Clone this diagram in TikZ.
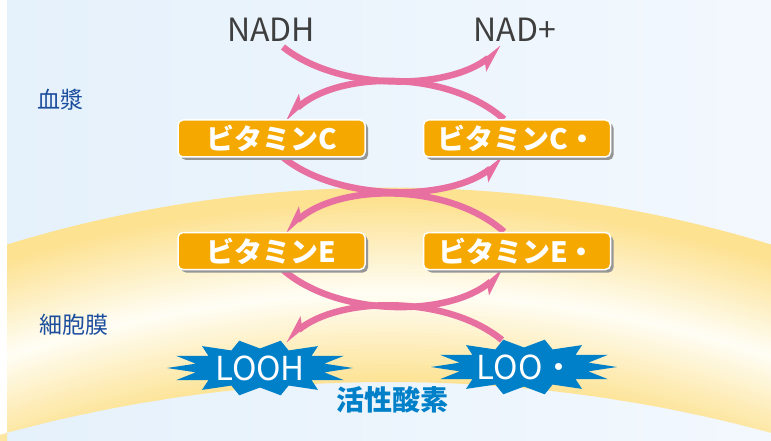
\documentclass[tikz,border=0pt]{standalone}
\usepackage{fontspec}
\setmainfont{Noto Sans CJK JP}
\newfontfamily\jpfont{Noto Sans CJK JP}
\usetikzlibrary{positioning, arrows.meta, shadows, backgrounds}

\definecolor{bgleft}{RGB}{229,241,251}
\definecolor{bgright}{RGB}{243,248,254}
\definecolor{memyellow}{RGB}{253,226,146}
\definecolor{memwhite}{RGB}{255,254,246}
\definecolor{vitorange}{RGB}{245,168,0}
\definecolor{shadowgray}{RGB}{150,150,150}
\definecolor{rosblue}{RGB}{0,128,200}
\definecolor{arrowpink}{RGB}{232,112,160}
\definecolor{placeblue}{RGB}{28,78,158}
\definecolor{nadgray}{RGB}{62,62,62}

\begin{document}
\begin{tikzpicture}[x=1pt, y=-1pt,
  vitbox/.style={rectangle, rounded corners=5pt, fill=vitorange, draw=white,
    line width=1.5pt, minimum width=187pt, minimum height=37pt, inner sep=0pt,
    text=white, font=\jpfont\bfseries\fontsize{28}{28}\selectfont,
    drop shadow={shadow xshift=3pt, shadow yshift=-3pt, fill=shadowgray, opacity=1}},
  lipid/.style={inner sep=0pt, text=white, font=\fontsize{33}{33}\selectfont},
  nadtext/.style={text=nadgray, inner sep=0pt, font=\fontsize{32}{32}\selectfont},
  place/.style={text=placeblue, inner sep=0pt, font=\fontsize{23}{23}\selectfont},
  redox/.style={line width=6.5pt, draw=arrowpink,
    -{Stealth[harpoon, swap, length=22pt, width=18pt, inset=5pt]}}]

\useasboundingbox (0,0) rectangle (771,441);
\begin{scope}[on background layer]
  \fill[white] (0,0) rectangle (771,441);
  \shade[left color=bgleft, right color=bgright] (7,0) rectangle (771,441);
  % cell membrane band
  \begin{scope}[even odd rule]
    \clip (7,0) rectangle (771,441) (389,1832) circle (1450pt);
    \foreach \r in {1100,1104,...,1300} {
      \pgfmathtruncatemacro{\w}{max(0,100-1.1*abs(\r-1197))}
      \draw[line width=4.8pt, memwhite!\w!memyellow] (389,1490) circle (\r pt);
    }
  \end{scope}
\end{scope}

\node[nadtext] (nadh) at (271,30) {NADH};
\node[nadtext] (nadp) at (515,30) {NAD+};
\node[place] (plasma) at (60,100) {血漿};
\node[place] (membrane) at (74,325) {細胞膜};

\node[vitbox] (vc) at (271.5,138.5) {ビタミンC};
\node[vitbox, right=57pt of vc] (vcr) {ビタミンC・};
\node[vitbox, below=74pt of vc] (ve) {ビタミンE};
\node[vitbox, right=57pt of ve] (ver) {ビタミンE・};

\node[lipid] (looh) at (260,368) {LOOH};
\node[lipid] (loo) at (526,367) {LOO・};
\node[text=rosblue, inner sep=0pt, font=\bfseries\fontsize{28}{28}\selectfont]
  (ros) at (392,400) {活性酸素};

\begin{scope}[on background layer]
  \draw[redox] ([shift={(12,17)}]nadh.center) .. controls +(55,44) and +(-55,44) .. ([shift={(-13,17)}]nadp.center);
  \draw[redox] ([xshift=-13pt]vcr.north) .. controls +(-55,-49) and +(55,-49) .. ([xshift=13pt]vc.north);
  \draw[redox] ([xshift=12pt]vc.south) .. controls +(55,44) and +(-55,44) .. ([xshift=-13pt]vcr.south);
  \draw[redox] ([xshift=-13pt]ver.north) .. controls +(-55,-49) and +(55,-49) .. ([xshift=13pt]ve.north);
  \draw[redox] ([xshift=12pt]ve.south) .. controls +(55,47) and +(-55,47) .. ([xshift=-13pt]ver.south);
  \draw[redox] ([shift={(-24,-27)}]loo.center) .. controls +(-55,-45) and +(55,-45) .. ([shift={(25,-27)}]looh.center);
  % bursts behind the LOOH / LOO texts
  \foreach \n/\dx in {looh/0, loo/-2} {
    \fill[rosblue] ([shift={(\dx+93,0)}]\n.center)
      \foreach \k [evaluate=\k as \rx using {ifthenelse(mod(\k,2)==0,93,66)},
                   evaluate=\k as \ry using {ifthenelse(mod(\k,2)==0,28,19.5)}] in {1,...,27} {
        -- ([shift={({\dx+\rx*cos(\k*360/28)},{\ry*sin(\k*360/28)})}]\n.center)
      } -- cycle;
  }
\end{scope}
\end{tikzpicture}
\end{document}
